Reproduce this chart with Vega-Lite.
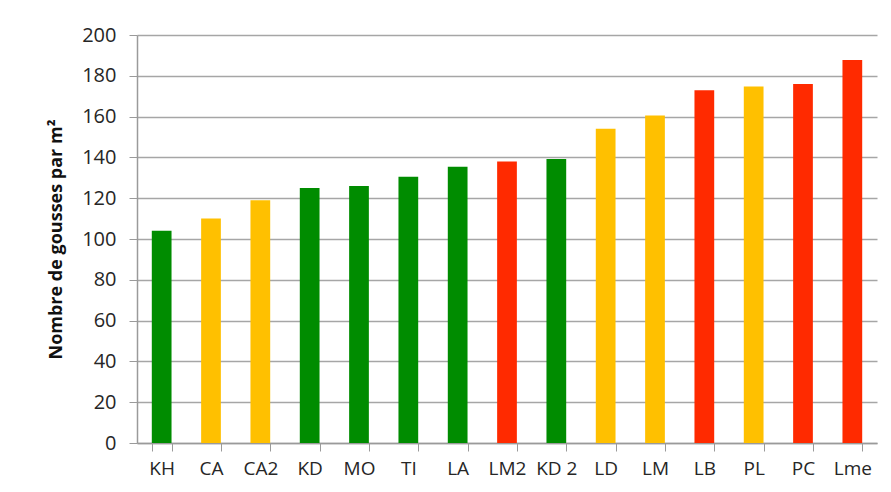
{
  "$schema": "https://vega.github.io/schema/vega-lite/v6.json",
  "width": 740,
  "height": 408,
  "autosize": {"type": "none"},
  "padding": {"left": 137, "top": 35, "right": 14, "bottom": 49},
  "background": "white",
  "data": {
    "values": [
      {"site": "KH", "value": 104, "group": "vert"},
      {"site": "CA", "value": 110, "group": "jaune"},
      {"site": "CA2", "value": 119, "group": "jaune"},
      {"site": "KD", "value": 125, "group": "vert"},
      {"site": "MO", "value": 126, "group": "vert"},
      {"site": "TI", "value": 130.5, "group": "vert"},
      {"site": "LA", "value": 135.4, "group": "vert"},
      {"site": "LM2", "value": 138, "group": "rouge"},
      {"site": "KD 2", "value": 139.2, "group": "vert"},
      {"site": "LD", "value": 154.1, "group": "jaune"},
      {"site": "LM", "value": 160.5, "group": "jaune"},
      {"site": "LB", "value": 172.9, "group": "rouge"},
      {"site": "PL", "value": 174.8, "group": "jaune"},
      {"site": "PC", "value": 176, "group": "rouge"},
      {"site": "Lme", "value": 187.7, "group": "rouge"}
    ]
  },
  "mark": {"type": "bar", "stroke": null},
  "encoding": {
    "x": {
      "field": "site",
      "type": "nominal",
      "sort": null,
      "scale": {"paddingInner": 0.6, "paddingOuter": 0.3},
      "axis": {
        "title": null,
        "labelAngle": 0,
        "labelFont": "Open Sans",
        "labelFontSize": 19,
        "labelColor": "#262626",
        "labelPadding": 8,
        "tickBand": "extent",
        "tickColor": "#9a9a9a",
        "tickSize": 8,
        "domainColor": "#9a9a9a",
        "domainWidth": 1.5,
        "grid": false
      }
    },
    "y": {
      "field": "value",
      "type": "quantitative",
      "scale": {"domain": [0, 200], "nice": false},
      "axis": {
        "title": "Nombre de gousses par m²",
        "titleFont": "Open Sans",
        "titleFontSize": 18,
        "titleFontWeight": "bold",
        "titleColor": "#111111",
        "titlePadding": 16,
        "values": [0, 20, 40, 60, 80, 100, 120, 140, 160, 180, 200],
        "labelFont": "Open Sans",
        "labelFontSize": 20,
        "labelColor": "#262626",
        "labelPadding": 13,
        "tickColor": "#9a9a9a",
        "tickSize": 8,
        "domainColor": "#9a9a9a",
        "domainWidth": 1.5,
        "grid": true,
        "gridColor": "#a6a6a6",
        "gridWidth": 1.3
      }
    },
    "color": {
      "field": "group",
      "type": "nominal",
      "scale": {"domain": ["vert", "jaune", "rouge"], "range": ["#008C00", "#FFC000", "#FF2A00"]},
      "legend": null
    }
  },
  "config": {"view": {"stroke": null}}
}
